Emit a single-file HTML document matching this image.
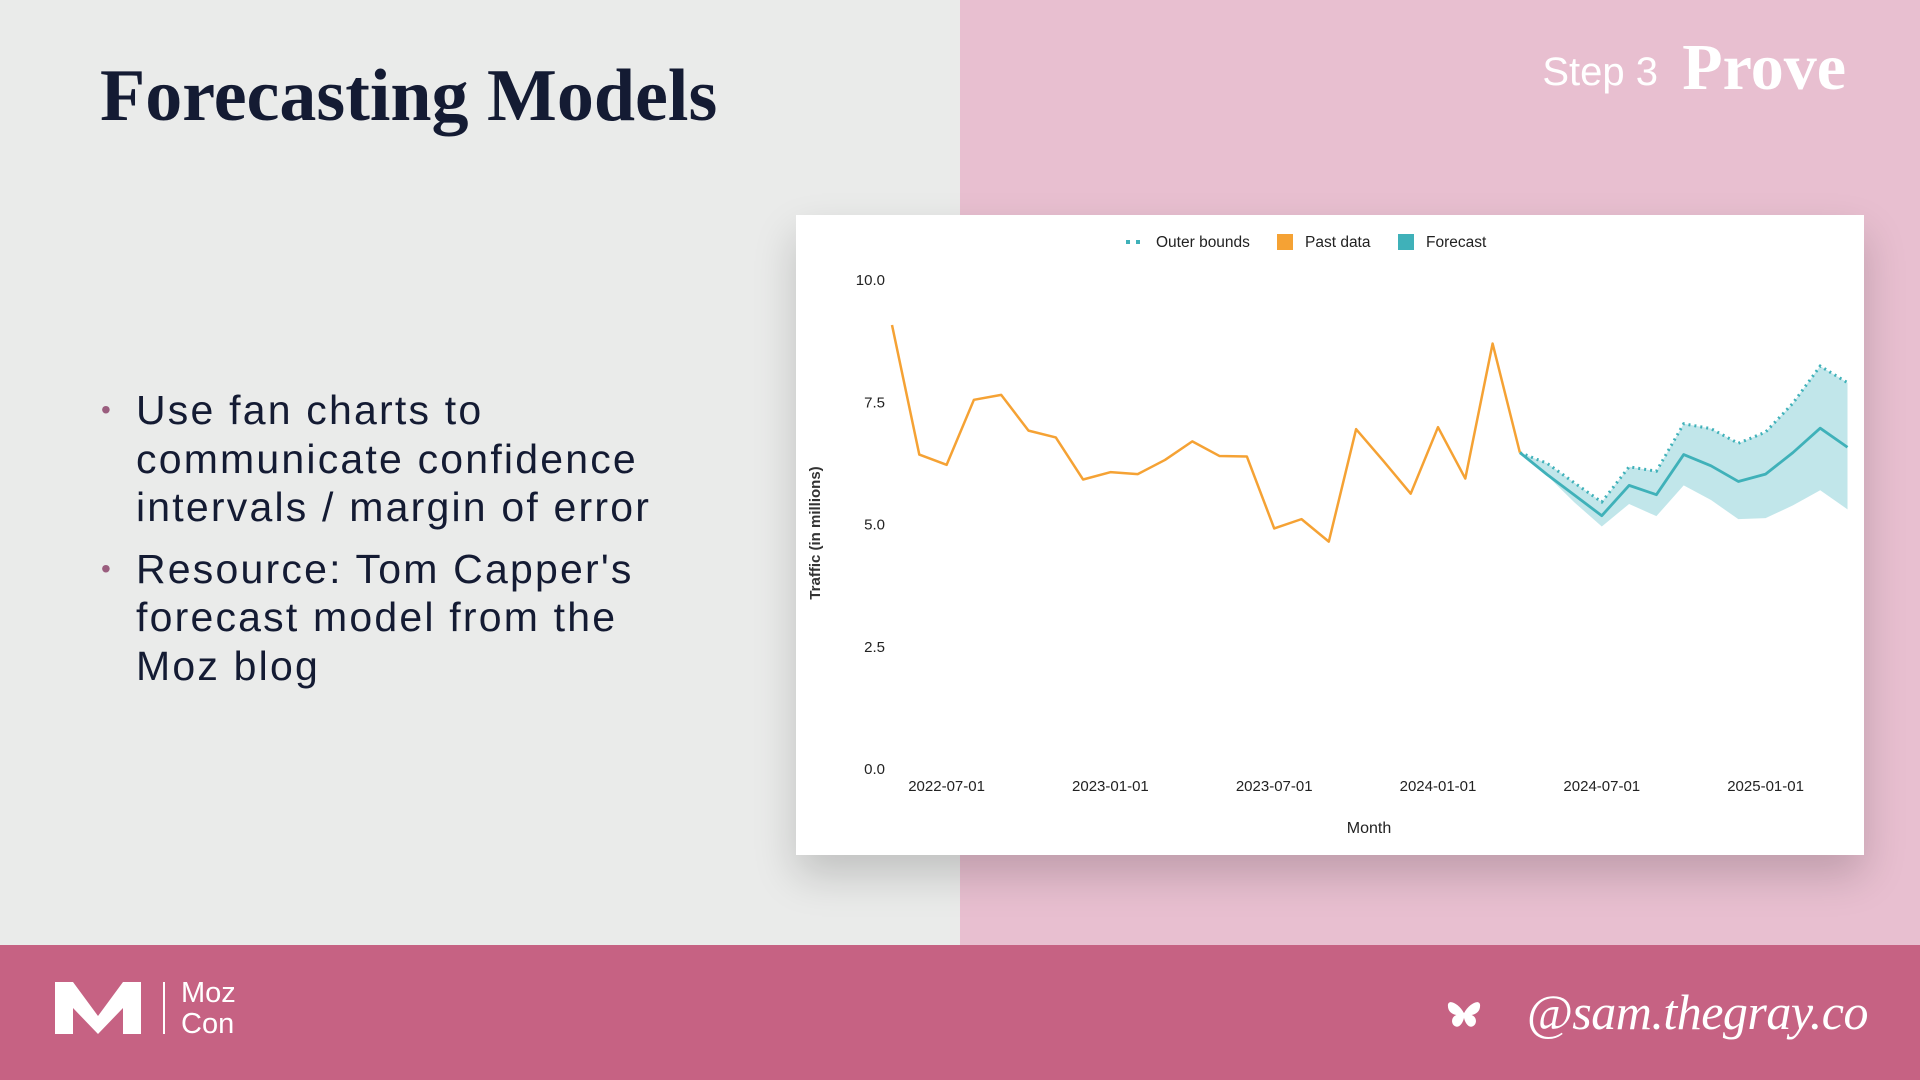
<!DOCTYPE html>
<html><head><meta charset="utf-8"><style>
*{margin:0;padding:0;box-sizing:border-box}
body{width:1920px;height:1080px;position:relative;overflow:hidden;background:#eaebea;font-family:"Liberation Sans",sans-serif}
.abs{position:absolute}
</style></head><body>
<div class="abs" style="left:0;top:0;width:960px;height:945px;background:#eaebea"></div>
<div class="abs" style="left:960px;top:0;width:960px;height:945px;background:#e8bfd0"></div>
<div class="abs" style="left:100px;top:54px;font-family:'Liberation Serif',serif;font-weight:bold;font-size:74px;color:#141b33">Forecasting Models</div>
<div class="abs" style="right:262px;top:50px;font-size:40px;color:#fff">Step 3</div>
<div class="abs" style="right:74px;top:30px;font-size:66px;color:#fff;font-weight:bold;font-family:'Liberation Serif',serif">Prove</div>
<div class="abs" style="left:101px;top:386px;font-size:41px;line-height:48.5px;color:#141b33;letter-spacing:2.2px">
 <div style="position:relative;padding-left:35px;white-space:nowrap"><span style="position:absolute;left:0;color:#9a5d7e;font-size:28px">•</span>Use fan charts to<br>communicate confidence<br>intervals / margin of error</div>
 <div style="position:relative;padding-left:35px;white-space:nowrap;margin-top:13px"><span style="position:absolute;left:0;color:#9a5d7e;font-size:28px">•</span>Resource: Tom Capper's<br>forecast model from the<br>Moz blog</div>
</div>
<div class="abs" style="left:796px;top:215px;width:1068px;height:640px;background:#fff;box-shadow:0 20px 40px rgba(0,0,0,0.18)">
<svg id="chart" width="1068" height="640" style="position:absolute;left:0;top:0" font-family="Liberation Sans, sans-serif"></svg>
</div>
<div class="abs" style="left:0;top:945px;width:1920px;height:135px;background:#c66283"></div>
<div class="abs" style="left:53px;top:978px;width:190px;height:60px">
 <svg width="95" height="60"><polygon points="2,4 20,4 45,38 70,4 88,4 88,56 70,56 70,30 45,56 20,30 20,56 2,56" fill="#fff"/></svg>
 <div style="position:absolute;left:110px;top:4px;width:2px;height:52px;background:#fff"></div>
 <div style="position:absolute;left:128px;top:0px;font-size:29px;line-height:31px;color:#fff">Moz<br>Con</div>
</div>
<svg class="abs" style="left:1446px;top:998px" width="36" height="36" viewBox="0 0 38 34"><path d="M19 14 C14 4 2 -2 2 6 C2 12 6 15 11 16 C5 18 5 26 10 28 C14 30 18 24 19 19 C20 24 24 30 28 28 C33 26 33 18 27 16 C32 15 36 12 36 6 C36 -2 24 4 19 14Z" fill="#fff"/></svg>
<div class="abs" style="right:52px;top:983px;font-family:'Liberation Serif',serif;font-style:italic;font-size:50px;color:#fff;letter-spacing:-0.5px">@sam.thegray.co</div>
<script>
const months=["2022-05","2022-06","2022-07","2022-08","2022-09","2022-10","2022-11","2022-12","2023-01","2023-02","2023-03","2023-04","2023-05","2023-06","2023-07","2023-08","2023-09","2023-10","2023-11","2023-12","2024-01","2024-02","2024-03","2024-04","2024-05","2024-06","2024-07","2024-08","2024-09","2024-10","2024-11","2024-12","2025-01","2025-02","2025-03","2025-04"];
const pastData=[9.08,6.43,6.22,7.55,7.65,6.92,6.78,5.92,6.07,6.03,6.32,6.70,6.40,6.39,4.92,5.11,4.65,6.95,6.30,5.63,6.99,5.94,8.70,6.47];
const forecast=[6.47,6.02,5.6,5.18,5.80,5.61,6.43,6.20,5.88,6.03,6.47,6.97,6.58];
const upper=[6.47,6.25,5.85,5.46,6.18,6.09,7.06,6.96,6.66,6.89,7.48,8.24,7.90];
const lower=[6.47,6.0,5.45,4.96,5.42,5.17,5.80,5.50,5.11,5.13,5.39,5.70,5.31];
const yTicks=[0,2.5,5,7.5,10];
const xTickLabels=["2022-07-01","2023-01-01","2023-07-01","2024-01-01","2024-07-01","2025-01-01"];
const svg=document.getElementById('chart');
const NS='http://www.w3.org/2000/svg';
const idx0=2, x0=150.6, step=27.3;
const xS=i=>x0+(i-idx0)*step;
const yS=v=>554-v*48.9;
function mk(t,a){const e=document.createElementNS(NS,t);for(const k in a)e.setAttribute(k,a[k]);svg.appendChild(e);return e;}
yTicks.forEach(v=>{const t=mk('text',{x:89,y:yS(v)+5,'text-anchor':'end','font-size':15,fill:'#222'});t.textContent=v.toFixed(1);

});
xTickLabels.forEach(l=>{const i=months.indexOf(l.slice(0,7));const t=mk('text',{x:xS(i),y:576,'text-anchor':'middle','font-size':15,fill:'#222'});t.textContent=l;

});
const yl=mk('text',{x:0,y:0,transform:'translate(24,318) rotate(-90)','text-anchor':'middle','font-size':15,fill:'#333','font-weight':'bold'});yl.textContent='Traffic (in millions)';


const xl=mk('text',{x:573,y:618,'text-anchor':'middle','font-size':16,fill:'#222'});xl.textContent='Month';


const fs=pastData.length-1;
let band=upper.map((v,k)=>xS(fs+k)+','+yS(v)).join(' ')+' '+lower.map((v,k)=>xS(fs+k)+','+yS(v)).reverse().join(' ');
const b=mk('polygon',{points:band,fill:'#b6e2e6','fill-opacity':0.85});


const ub=mk('polyline',{points:upper.map((v,k)=>xS(fs+k)+','+yS(v)).join(' '),fill:'none',stroke:'#3fb1b9','stroke-width':3,'stroke-dasharray':'2,4'});


const pl=mk('polyline',{points:pastData.map((v,i)=>xS(i)+','+yS(v)).join(' '),fill:'none',stroke:'#f5a234','stroke-width':2.5,'stroke-linejoin':'round'});


const fl=mk('polyline',{points:forecast.map((v,k)=>xS(fs+k)+','+yS(v)).join(' '),fill:'none',stroke:'#3fb1b9','stroke-width':2.8,'stroke-linejoin':'round'});


const d1=mk('line',{x1:330,y1:27,x2:347,y2:27,stroke:'#3fb1b9','stroke-width':4,'stroke-dasharray':'4,6'});


const t1=mk('text',{x:360,y:32,'font-size':15.5,fill:'#222'});t1.textContent='Outer bounds';


const s2=mk('rect',{x:481,y:19,width:16,height:16,fill:'#f5a234'});


const t2=mk('text',{x:509,y:32,'font-size':15.5,fill:'#222'});t2.textContent='Past data';


const s3=mk('rect',{x:602,y:19,width:16,height:16,fill:'#3fb1b9'});


const t3=mk('text',{x:630,y:32,'font-size':15.5,fill:'#222'});t3.textContent='Forecast';


</script>
</body></html>
